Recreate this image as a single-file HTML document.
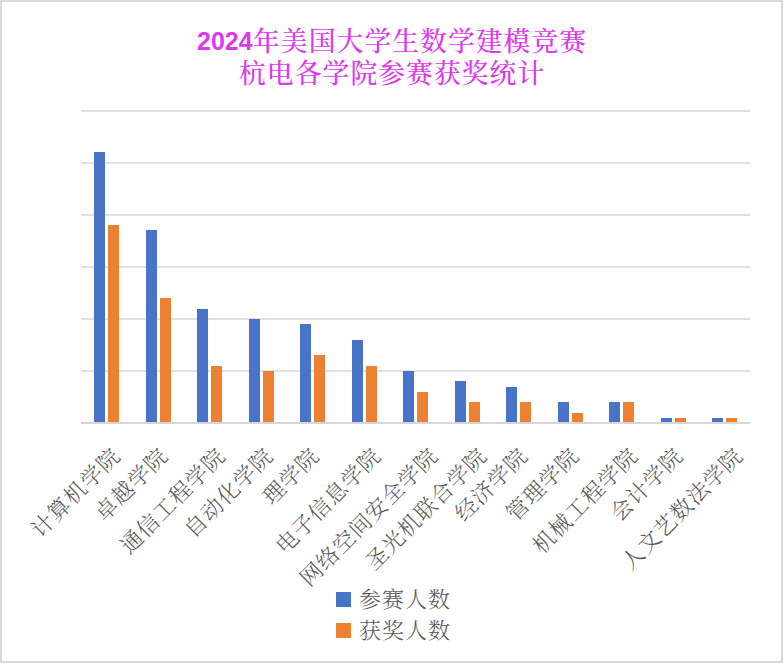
<!DOCTYPE html>
<html><head><meta charset="utf-8"><style>
html,body{margin:0;padding:0;background:#fff;}
body{width:784px;height:664px;position:relative;overflow:hidden;}
#frame{position:absolute;left:0;top:0;width:783px;height:663px;box-sizing:border-box;border:2px solid #d9d9d9;}
svg{position:absolute;left:0;top:0;}
.lab{font-family:"Liberation Serif","Noto Serif CJK SC",serif;font-size:22.0px;fill:#595959;font-weight:300;letter-spacing:1.0px;}
.t1d,.t1c,.t2{position:absolute;white-space:nowrap;color:#df37ee;line-height:1;}
.t1d{font-family:"Liberation Sans",sans-serif;font-weight:700;font-size:25px;left:197px;top:29px;}
.t1c,.t2{font-family:"Liberation Serif","Noto Serif CJK SC",serif;font-weight:500;font-size:26.8px;letter-spacing:1.05px;}
.t1c{left:253px;top:29.0px;}
.t2{left:239px;top:60.5px;}
.legend{position:absolute;font-family:"Liberation Serif","Noto Serif CJK SC",serif;font-size:22px;letter-spacing:1px;font-weight:300;color:#595959;}
.leg{position:absolute;white-space:nowrap;}
.sw{position:absolute;width:15px;height:15px;}
</style></head><body>
<div id="frame"></div>
<div class="t1d">2024</div><div class="t1c">年美国大学生数学建模竞赛</div><div class="t2">杭电各学院参赛获奖统计</div>
<svg width="784" height="664" viewBox="0 0 784 664">
<rect x="81" y="110" width="669" height="2" fill="#e1e1e1"/>
<rect x="81" y="162" width="669" height="2" fill="#e1e1e1"/>
<rect x="81" y="214" width="669" height="2" fill="#e1e1e1"/>
<rect x="81" y="266" width="669" height="2" fill="#e1e1e1"/>
<rect x="81" y="318" width="669" height="2" fill="#e1e1e1"/>
<rect x="81" y="370" width="669" height="2" fill="#e1e1e1"/>
<rect x="94" y="152" width="11" height="270" fill="#4774c8"/>
<rect x="108" y="225" width="11" height="197" fill="#ee8131"/>
<rect x="146" y="230" width="11" height="192" fill="#4774c8"/>
<rect x="160" y="298" width="11" height="124" fill="#ee8131"/>
<rect x="197" y="309" width="11" height="113" fill="#4774c8"/>
<rect x="211" y="366" width="11" height="56" fill="#ee8131"/>
<rect x="249" y="319" width="11" height="103" fill="#4774c8"/>
<rect x="263" y="371" width="11" height="51" fill="#ee8131"/>
<rect x="300" y="324" width="11" height="98" fill="#4774c8"/>
<rect x="314" y="355" width="11" height="67" fill="#ee8131"/>
<rect x="352" y="340" width="11" height="82" fill="#4774c8"/>
<rect x="366" y="366" width="11" height="56" fill="#ee8131"/>
<rect x="403" y="371" width="11" height="51" fill="#4774c8"/>
<rect x="417" y="392" width="11" height="30" fill="#ee8131"/>
<rect x="455" y="381" width="11" height="41" fill="#4774c8"/>
<rect x="469" y="402" width="11" height="20" fill="#ee8131"/>
<rect x="506" y="387" width="11" height="35" fill="#4774c8"/>
<rect x="520" y="402" width="11" height="20" fill="#ee8131"/>
<rect x="558" y="402" width="11" height="20" fill="#4774c8"/>
<rect x="572" y="413" width="11" height="9" fill="#ee8131"/>
<rect x="609" y="402" width="11" height="20" fill="#4774c8"/>
<rect x="623" y="402" width="11" height="20" fill="#ee8131"/>
<rect x="661" y="418" width="11" height="4" fill="#4774c8"/>
<rect x="675" y="418" width="11" height="4" fill="#ee8131"/>
<rect x="712" y="418" width="11" height="4" fill="#4774c8"/>
<rect x="726" y="418" width="11" height="4" fill="#ee8131"/>
<rect x="81" y="422" width="669" height="2" fill="#d6d6d6"/>
<g class="lab" text-anchor="end" dominant-baseline="hanging">
<text transform="translate(110.6,446.0) rotate(-45)" x="0" y="0">计算机学院</text>
<text transform="translate(158.1,446.0) rotate(-45)" x="0" y="0">卓越学院</text>
<text transform="translate(215.7,446.0) rotate(-45)" x="0" y="0">通信工程学院</text>
<text transform="translate(263.4,446.0) rotate(-45)" x="0" y="0">自动化学院</text>
<text transform="translate(309.5,446.0) rotate(-45)" x="0" y="0">理学院</text>
<text transform="translate(371.2,446.0) rotate(-45)" x="0" y="0">电子信息学院</text>
<text transform="translate(428.1,446.0) rotate(-45)" x="0" y="0">网络空间安全学院</text>
<text transform="translate(477.2,446.0) rotate(-45)" x="0" y="0">圣光机联合学院</text>
<text transform="translate(517.9,446.0) rotate(-45)" x="0" y="0">经济学院</text>
<text transform="translate(569.2,446.0) rotate(-45)" x="0" y="0">管理学院</text>
<text transform="translate(628.2,446.0) rotate(-45)" x="0" y="0">机械工程学院</text>
<text transform="translate(673.3,446.0) rotate(-45)" x="0" y="0">会计学院</text>
<text transform="translate(733.3,446.0) rotate(-45)" x="0" y="0">人文艺数法学院</text>
</g>
</svg>
<div class="sw" style="left:336px;top:592px;background:#4774c8"></div>
<div class="sw" style="left:336px;top:623px;background:#ee8131"></div>
<div class="legend leg" style="left:359px;top:581.5px;">参赛人数</div>
<div class="legend leg" style="left:359px;top:612.5px;">获奖人数</div>
</body></html>
